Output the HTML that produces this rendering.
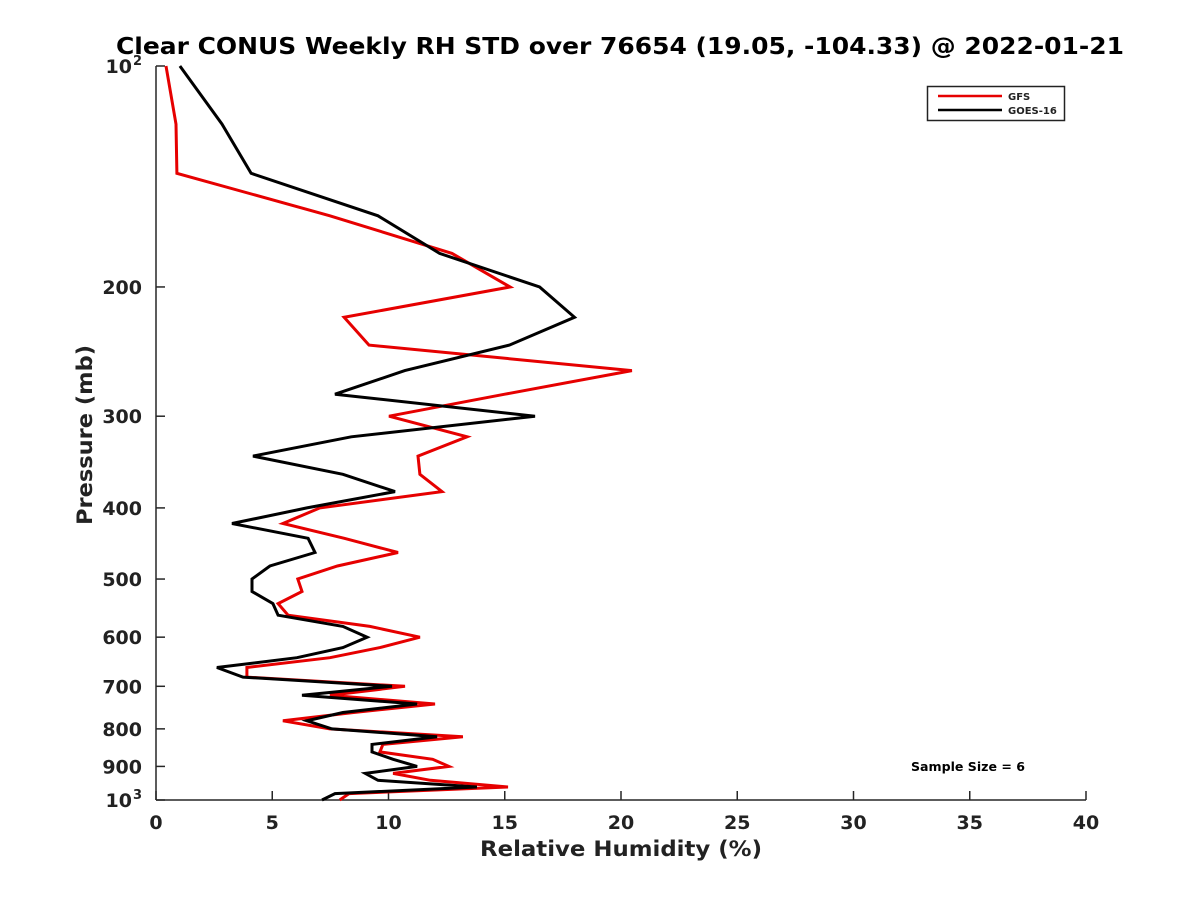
<!DOCTYPE html>
<html><head><meta charset="utf-8"><style>
body{margin:0;background:#fff}
svg text{font-family:"DejaVu Sans","Liberation Sans",sans-serif;font-weight:bold;fill:#222}
</style></head><body>
<svg id="c" width="1200" height="900" xmlns="http://www.w3.org/2000/svg">
<rect width="1200" height="900" fill="#fff"/>
<text x="620" y="54" text-anchor="middle" font-size="23" textLength="1008" lengthAdjust="spacingAndGlyphs" style="fill:#000">Clear CONUS Weekly RH STD over 76654 (19.05, -104.33) @ 2022-01-21</text>
<g id="axes"></g>
<g id="series"></g>
<text x="621" y="856" text-anchor="middle" font-size="21" textLength="282" lengthAdjust="spacingAndGlyphs">Relative Humidity (%)</text>
<text transform="translate(92,435) rotate(-90)" text-anchor="middle" font-size="21" textLength="180" lengthAdjust="spacingAndGlyphs">Pressure (mb)</text>
<g>
<rect x="927.5" y="86.5" width="137" height="34" fill="#fff" stroke="#222" stroke-width="1.5"/>
<line x1="938" y1="96" x2="1002" y2="96" stroke="#e60000" stroke-width="2.5"/>
<text x="1008" y="100" font-size="10">GFS</text>
<line x1="938" y1="110" x2="1002" y2="110" stroke="#000" stroke-width="2.5"/>
<text x="1008" y="114" font-size="10">GOES-16</text>
</g>
<text x="968" y="771" text-anchor="middle" font-size="12" textLength="114" lengthAdjust="spacingAndGlyphs" style="fill:#000">Sample Size = 6</text>
</svg>
<script>
const pressure=[100,120,140,160,180,200,220,240,260,280,300,320,340,360,380,400,420,440,460,480,500,520,540,560,580,600,620,640,660,680,700,720,740,760,780,800,820,840,860,880,900,920,940,960,980,1000];
const gfs=[0.43,0.86,0.9,7.48,12.73,15.23,8.09,9.16,20.47,15.0,10.02,13.38,11.27,11.35,12.3,7.05,5.46,8.1,10.41,7.8,6.1,6.28,5.25,5.68,9.2,11.35,9.63,7.48,3.91,3.91,10.71,7.48,12.0,8.5,5.46,7.48,13.2,9.76,9.63,11.9,12.6,10.2,11.8,15.14,8.3,7.9];
const goes=[1.03,2.84,4.09,9.55,12.2,16.5,18.0,15.2,10.7,7.7,16.3,8.4,4.17,8.04,10.28,6.49,3.27,6.54,6.84,4.9,4.13,4.13,5.03,5.25,8.04,9.08,8.04,6.06,2.62,3.74,10.15,6.28,11.23,8.04,6.49,7.57,12.09,9.29,9.29,10.2,11.23,9.0,9.55,13.8,7.7,7.14];
const xTicks=[0,5,10,15,20,25,30,35,40];
const yTicks=[100,200,300,400,500,600,700,800,900,1000];
const yTickLabels=["10^2","200","300","400","500","600","700","800","900","10^3"];
const X0=156,X1=1086,Y0=66,Y1=800;
const xs=v=>X0+(v-0)/(40-0)*(X1-X0);
const ys=p=>Y0+(Y1-Y0)*Math.log10(p/100);
const NS="http://www.w3.org/2000/svg";
const axes=document.getElementById('axes'),ser=document.getElementById('series');
function mk(t,a,parent){const e=document.createElementNS(NS,t);for(const k in a)e.setAttribute(k,a[k]);parent.appendChild(e);return e;}
const yl=mk('line',{x1:X0,y1:Y0,x2:X0,y2:Y1,stroke:'#262626','stroke-width':1.5},axes);


const xl=mk('line',{x1:X0,y1:Y1,x2:X1,y2:Y1,stroke:'#262626','stroke-width':1.5},axes);


xTicks.forEach(v=>{
 const t=mk('line',{x1:xs(v),y1:Y1,x2:xs(v),y2:Y1-9,stroke:'#262626','stroke-width':1.5},axes);
 
 
 const l=mk('text',{x:xs(v),y:Y1+29,'text-anchor':'middle','font-size':19},axes);
 l.textContent=v;
 
 
});
yTicks.forEach((p,i)=>{
 const t=mk('line',{x1:X0,y1:ys(p),x2:X0+9,y2:ys(p),stroke:'#262626','stroke-width':1.5},axes);
 
 
 const lab=yTickLabels[i];
 if(lab.indexOf('^')>=0){
  const parts=lab.split('^');
  const l=mk('text',{x:X0-24,y:ys(p)+7,'text-anchor':'end','font-size':19},axes);
  l.textContent=parts[0];
  
  
  const s=mk('text',{x:X0-14,y:ys(p)-1,'text-anchor':'end','font-size':13},axes);
  s.textContent=parts[1];
  
  
 } else {
  const l=mk('text',{x:X0-14,y:ys(p)+7,'text-anchor':'end','font-size':19},axes);
  l.textContent=lab;
  
  
 }
});
function line(vals,color,name){
 const d=vals.map((v,i)=>(i?'L':'M')+xs(v).toFixed(1)+','+ys(pressure[i]).toFixed(1)).join(' ');
 const p=mk('path',{d:d,fill:'none',stroke:color,'stroke-width':3,'stroke-linejoin':'miter'},ser);
 
 
}
line(gfs,'#e60000','gfs-line');
line(goes,'#000','goes16-line');
</script>
</body></html>
